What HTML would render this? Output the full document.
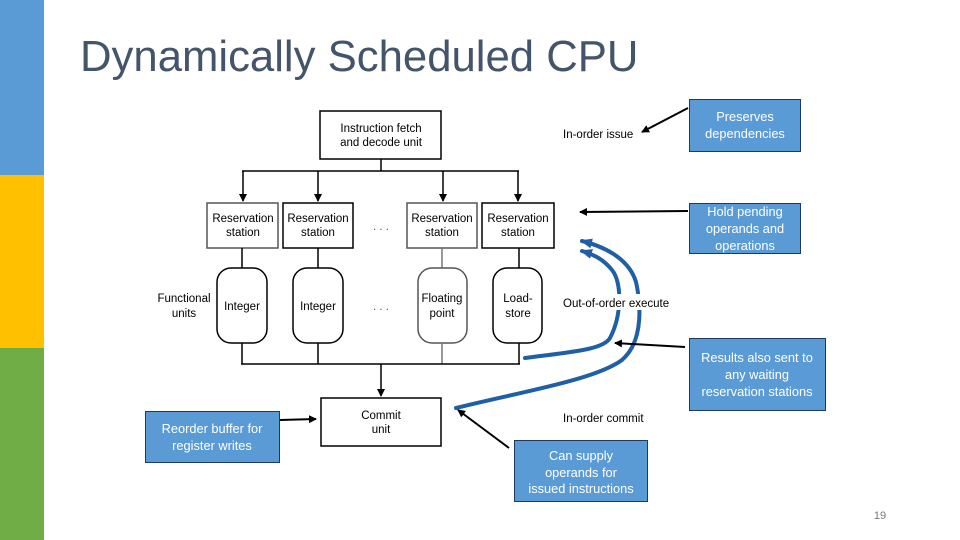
<!DOCTYPE html>
<html><head><meta charset="utf-8"><style>
html,body{margin:0;padding:0;background:#fff;}
body{width:960px;height:540px;overflow:hidden;position:relative;font-family:"Liberation Sans",sans-serif;}
</style></head><body>
<svg width="960" height="540" viewBox="0 0 960 540" xmlns="http://www.w3.org/2000/svg" style="position:absolute;left:0;top:0">
<defs>
<linearGradient id="fade" x1="0" x2="1"><stop offset="0" stop-color="#fff" stop-opacity="0.7"/><stop offset="1" stop-color="#fff" stop-opacity="0"/></linearGradient>
<marker id="ah" markerWidth="8" markerHeight="8" refX="7" refY="4" orient="auto" markerUnits="userSpaceOnUse"><path d="M0,0 L8,4 L0,8 Z" fill="#000"/></marker>
<marker id="ab" markerWidth="12" markerHeight="10" refX="10" refY="5" orient="auto" markerUnits="userSpaceOnUse"><path d="M0,0 L12,5 L0,10 Z" fill="#1f5fa6"/></marker>
</defs>
<rect x="0" y="0" width="44" height="175" fill="#5b9bd5"/>
<rect x="0" y="175" width="44" height="173" fill="#ffc000"/>
<rect x="0" y="348" width="44" height="192" fill="#70ad47"/>
<rect x="44" y="0" width="8" height="540" fill="url(#fade)"/>
<text x="80" y="71" font-size="43.7" fill="#44546a" font-family="Liberation Sans">Dynamically Scheduled CPU</text>

<g stroke="#000" stroke-width="1.5" fill="none">
<rect x="320" y="111" width="121" height="48" fill="#fff"/>
<line x1="381" y1="159" x2="381" y2="171"/>
<line x1="242" y1="171" x2="519" y2="171"/>
<line x1="243" y1="171" x2="243" y2="201" marker-end="url(#ah)"/>
<line x1="318" y1="171" x2="318" y2="201" marker-end="url(#ah)"/>
<line x1="443" y1="171" x2="443" y2="201" marker-end="url(#ah)"/>
<line x1="518" y1="171" x2="518" y2="201" marker-end="url(#ah)"/>
<rect x="207" y="203" width="71" height="45" stroke="#555"/>
<rect x="283" y="203" width="70" height="45"/>
<rect x="407" y="203" width="70" height="45" stroke="#555"/>
<rect x="482" y="203" width="72" height="45"/>
<line x1="242" y1="248" x2="242" y2="268"/>
<line x1="318" y1="248" x2="318" y2="268"/>
<line x1="442" y1="248" x2="442" y2="268" stroke="#777"/>
<line x1="519" y1="248" x2="519" y2="268"/>
<rect x="217" y="268" width="50" height="75" rx="14"/>
<rect x="293" y="268" width="50" height="75" rx="14"/>
<rect x="418" y="268" width="49" height="75" rx="14" stroke="#555"/>
<rect x="493" y="268" width="49" height="75" rx="14"/>
<line x1="242" y1="343" x2="242" y2="364"/>
<line x1="318" y1="343" x2="318" y2="364"/>
<line x1="442" y1="343" x2="442" y2="364" stroke="#777"/>
<line x1="519" y1="343" x2="519" y2="364"/>
<line x1="241" y1="364" x2="520" y2="364"/>
<line x1="381" y1="364" x2="381" y2="396" marker-end="url(#ah)"/>
<rect x="321" y="398" width="120" height="48" fill="#fff"/>
</g>
<g font-size="11.5" text-anchor="middle" fill="#000" font-family="Liberation Sans">
<text x="381" y="132">Instruction fetch</text><text x="381" y="146">and decode unit</text>
<text x="243" y="222">Reservation</text><text x="243" y="236">station</text>
<text x="318" y="222">Reservation</text><text x="318" y="236">station</text>
<text x="442" y="222">Reservation</text><text x="442" y="236">station</text>
<text x="518" y="222">Reservation</text><text x="518" y="236">station</text>
<text x="381" y="230" fill="#555">. . .</text>
<text x="381" y="310" fill="#555">. . .</text>
<text x="242" y="310">Integer</text>
<text x="318" y="310">Integer</text>
<text x="442" y="302">Floating</text><text x="442" y="317">point</text>
<text x="518" y="302">Load-</text><text x="518" y="317">store</text>
<text x="184" y="302">Functional</text><text x="184" y="317">units</text>
<text x="381" y="419">Commit</text><text x="381" y="433">unit</text>
</g>
<g stroke="#1f5fa6" stroke-width="4" fill="none" stroke-linecap="round">
<path d="M525,358 C570,352 603,350 610,338 C622,315 622,282 612,270 C604,260 595,255 582,251" marker-end="url(#ab)"/>
<path d="M456,408 C520,392 595,380 622,360 C645,340 640,300 636,282 C630,262 610,248 582,241" marker-end="url(#ab)"/>
</g>
<g font-size="11.5" fill="#000" font-family="Liberation Sans">
<text x="563" y="138">In-order issue</text>
<rect x="561" y="294" width="116" height="16" fill="#fff"/>
<text x="563" y="307">Out-of-order execute</text>
<text x="563" y="422">In-order commit</text>
</g>
<g stroke="#000" stroke-width="2" fill="none">
<line x1="688" y1="108" x2="642" y2="132" marker-end="url(#ah)"/>
<line x1="688" y1="211" x2="580" y2="212" marker-end="url(#ah)"/>
<line x1="685" y1="347" x2="615" y2="343" marker-end="url(#ah)"/>
<line x1="280" y1="420" x2="316" y2="419" marker-end="url(#ah)"/>
<line x1="509" y1="448" x2="458" y2="410" marker-end="url(#ah)"/>
</g>
<g fill="#5b9bd5" stroke="#1f3864" stroke-width="1">
<rect x="689.5" y="99.5" width="111" height="52"/>
<rect x="689.5" y="203.5" width="111" height="50"/>
<rect x="689.5" y="338.5" width="136" height="72"/>
<rect x="145.5" y="411.5" width="134" height="51"/>
<rect x="514.5" y="440.5" width="133" height="61"/>
</g>
<g font-size="12.8" fill="#fff" text-anchor="middle" font-family="Liberation Sans">
<text x="745" y="121">Preserves</text><text x="745" y="138">dependencies</text>
<text x="745" y="216">Hold pending</text><text x="745" y="233">operands and</text><text x="745" y="250">operations</text>
<text x="757" y="362">Results also sent to</text><text x="757" y="379">any waiting</text><text x="757" y="396">reservation stations</text>
<text x="212" y="433">Reorder buffer for</text><text x="212" y="450">register writes</text>
<text x="581" y="460">Can supply</text><text x="581" y="477">operands for</text><text x="581" y="493">issued instructions</text>
</g>
<text x="880" y="519" font-size="11" fill="#777" text-anchor="middle" font-family="Liberation Sans">19</text>
</svg>
</body></html>
